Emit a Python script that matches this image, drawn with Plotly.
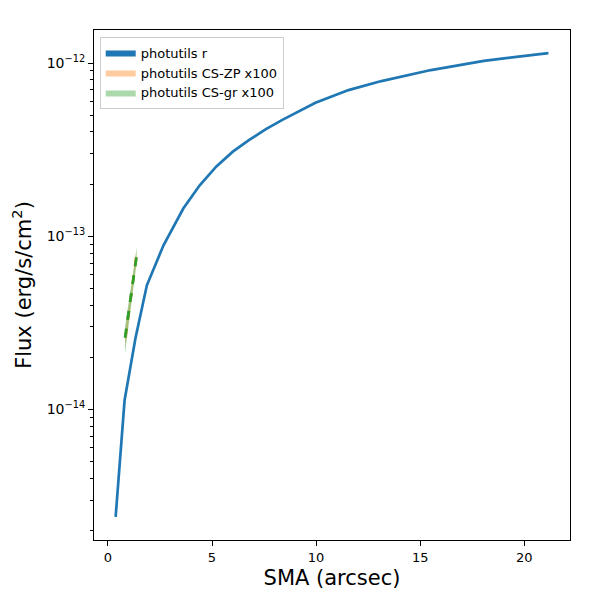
import numpy as np
import plotly.graph_objects as go

# photutils r profile (SMA in arcsec, flux in erg/s/cm^2)
sma_r = [0.37, 0.80, 1.32, 1.87, 2.67, 3.62, 4.41, 5.21, 6.00, 6.79, 7.59, 8.38, 9.97,
         11.56, 13.14, 15.52, 18.06, 19.65, 21.16]
flux_r = [2.4e-15, 1.13e-14, 2.57e-14, 5.21e-14, 8.87e-14, 1.445e-13, 1.97e-13, 2.53e-13,
          3.08e-13, 3.6e-13, 4.15e-13, 4.7e-13, 5.9e-13, 6.98e-13, 7.87e-13, 9.11e-13,
          1.03e-12, 1.087e-12, 1.14e-12]
flux_r_err = [0.05e-15, 0.2e-15, 0.4e-15, 0.6e-15, 0.8e-15, 1e-15, 1e-15, 2e-15,
              2e-15, 2e-15, 3e-15, 3e-15, 3e-15, 4e-15, 4e-15, 4e-15,
              5e-15, 5e-15, 5e-15]

# CS-ZP x100
sma_zp = [0.84, 1.10, 1.36]
flux_zp = [2.6e-14, 4.5e-14, 7.6e-14]
flux_zp_lo = [2.3e-14, 4.1e-14, 7.1e-14]
flux_zp_hi = [2.9e-14, 4.9e-14, 8.1e-14]

# CS-gr x100
sma_gr = [0.82, 1.10, 1.38]
flux_gr = [2.6e-14, 4.5e-14, 7.7e-14]
flux_gr_lo = [2.1e-14, 3.9e-14, 7.0e-14]
flux_gr_hi = [3.0e-14, 5.2e-14, 8.6e-14]

BLUE = "#1f77b4"
ORANGE = "#ff7f0e"
GREEN = "#2ca02c"


def band(x, lo, hi, color, name):
    return go.Scatter(
        x=list(x) + list(x)[::-1],
        y=list(hi) + list(lo)[::-1],
        fill="toself", fillcolor=color, mode="lines",
        line=dict(width=0, color=color), name=name, hoverinfo="skip",
    )


r_lo = [f - e for f, e in zip(flux_r, flux_r_err)]
r_hi = [f + e for f, e in zip(flux_r, flux_r_err)]

fig = go.Figure()
fig.add_trace(band(sma_r, r_lo, r_hi, BLUE, "photutils r"))
fig.add_trace(go.Scatter(x=sma_r, y=flux_r, mode="lines", line=dict(color=BLUE, width=2.7),
                         showlegend=False))
fig.add_trace(band(sma_zp, flux_zp_lo, flux_zp_hi, "rgba(255,127,14,0.4)", "photutils CS-ZP x100"))
fig.add_trace(go.Scatter(x=sma_zp, y=flux_zp, mode="lines",
                         line=dict(color=ORANGE, width=2.7, dash="dash"), showlegend=False))
fig.add_trace(band(sma_gr, flux_gr_lo, flux_gr_hi, "rgba(44,160,44,0.4)", "photutils CS-gr x100"))
fig.add_trace(go.Scatter(x=sma_gr, y=flux_gr, mode="lines",
                         line=dict(color=GREEN, width=2.7, dash="dash"), showlegend=False))

# matplotlib-like 5% margins
xmin, xmax = min(sma_r), max(sma_r)
xpad = 0.05 * (xmax - xmin)
ly = np.log10(flux_r)
ypad = 0.05 * (ly.max() - ly.min())

ytick_vals = [1e-14, 1e-13, 1e-12]
ytick_text = ["10<sup>−14</sup>", "10<sup>−13</sup>", "10<sup>−12</sup>"]
yminor_vals = [k * 10.0 ** e for e in (-15, -14, -13, -12) for k in range(2, 10)]

axis_common = dict(showline=True, linecolor="black", linewidth=1, mirror=True,
                   ticks="outside", ticklen=5, tickcolor="black", showgrid=False,
                   zeroline=False, tickfont=dict(size=13, color="black"))

fig.update_xaxes(range=[xmin - xpad, xmax + xpad], tickvals=[0, 5, 10, 15, 20],
                 title=dict(text="SMA (arcsec)", font=dict(size=21, color="black"), standoff=6),
                 **axis_common)
fig.update_yaxes(type="log", range=[ly.min() - ypad, ly.max() + ypad],
                 tickmode="array", tickvals=ytick_vals, ticktext=ytick_text,
                 minor=dict(ticks="outside", ticklen=3.5, tickcolor="black", tickwidth=1,
                            tickmode="array", tickvals=yminor_vals, showgrid=False),
                 title=dict(text="Flux (erg/s/cm<sup>2</sup>)", font=dict(size=21, color="black"), standoff=12),
                 **axis_common)
fig.update_yaxes(tickfont=dict(size=14, color="black"))

fig.update_layout(
    width=600, height=600,
    margin=dict(l=84, r=38, t=22, b=68),
    plot_bgcolor="white", paper_bgcolor="white",
    font=dict(family="DejaVu Sans", color="black"),
    legend=dict(x=0.012, y=0.987, xanchor="left", yanchor="top",
                bgcolor="rgba(255,255,255,0.8)", bordercolor="#cccccc", borderwidth=1,
                font=dict(size=13), tracegroupgap=2),
    showlegend=True,
)

fig.write_html("out.html")
